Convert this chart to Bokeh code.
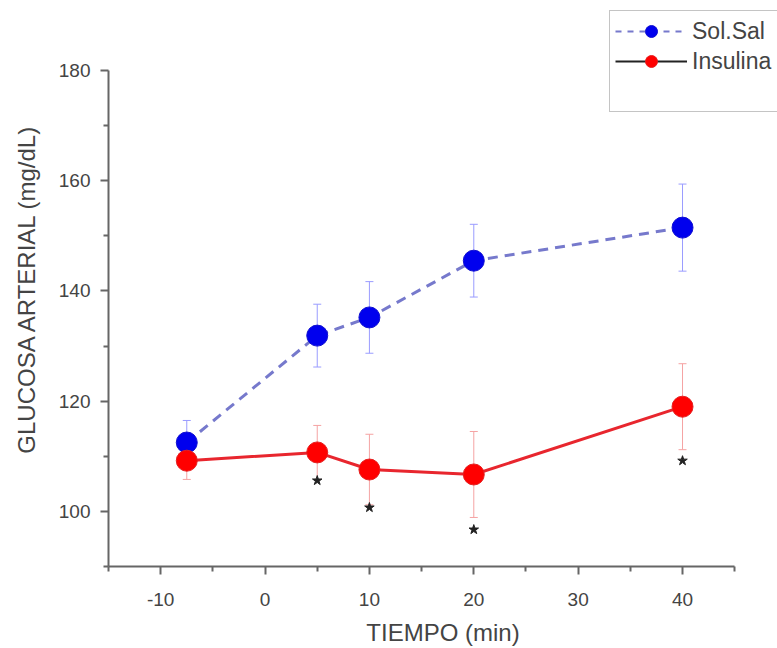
from bokeh.plotting import figure
from bokeh.models import (ColumnDataSource, Whisker, TeeHead, Legend, LegendItem,
                          Range1d, FixedTicker)
from bokeh.embed import file_html
from bokeh.resources import INLINE

# ---- data ----
tiempo = [-7.5, 5, 10, 20, 40]
sol_sal = [112.5, 131.9, 135.2, 145.5, 151.5]
sol_sal_err = [4.0, 5.7, 6.5, 6.6, 7.9]
insulina = [109.2, 110.7, 107.6, 106.7, 119.0]
insulina_err = [3.4, 4.9, 6.4, 7.8, 7.8]
sig_x = [5, 10, 20, 40]
sig_y = [105.6, 100.7, 96.7, 109.2]
x_ticks = [-10, 0, 10, 20, 30, 40]
y_ticks = [100, 120, 140, 160, 180]

FONT = "Liberation Sans"

# axes span x -15..45 and y 90..180; the plotting frame is larger so that the
# legend can sit above/right of the axes like in the original figure
p = figure(width=777, height=648, output_backend="svg", toolbar_location=None,
           x_range=Range1d(-15, 49.1), y_range=Range1d(90, 190.9),
           min_border_left=108, min_border_right=0, min_border_top=10,
           min_border_bottom=82)
p.outline_line_color = None
p.xgrid.visible = False
p.ygrid.visible = False

def up(v, e):
    return [a + b for a, b in zip(v, e)]

def dn(v, e):
    return [a - b for a, b in zip(v, e)]

blue_src = ColumnDataSource(dict(x=tiempo, y=sol_sal, up=up(sol_sal, sol_sal_err),
                                 dn=dn(sol_sal, sol_sal_err)))
red_src = ColumnDataSource(dict(x=tiempo, y=insulina, up=up(insulina, insulina_err),
                                dn=dn(insulina, insulina_err)))

for src, col in ((blue_src, "#9a9cff"), (red_src, "#f5a3a3")):
    w = Whisker(source=src, base="x", upper="up", lower="dn", line_color=col,
                line_width=1,
                upper_head=TeeHead(size=8, line_color=col, line_width=1),
                lower_head=TeeHead(size=8, line_color=col, line_width=1))
    p.add_layout(w)

p.line("x", "y", source=blue_src, line_color="#7679cc", line_width=3,
       line_dash="10 7")
p.scatter("x", "y", source=blue_src, size=21, fill_color="#0000ee",
          line_color="#1010d0")
p.line("x", "y", source=red_src, line_color="#e8262e", line_width=3)
p.scatter("x", "y", source=red_src, size=21, fill_color="#ff0000",
          line_color="#e52020")

p.scatter(sig_x, sig_y, marker="star", size=10, fill_color="#222222",
          line_color="#222222")

# legend proxies
nan = [float("nan")]
lg_blue_line = p.line(nan, nan, line_color="#7679cc", line_width=2, line_dash="6 6")
lg_blue_dot = p.scatter(nan, nan, size=15, fill_color="#0000ee", line_color="#1010d0")
lg_red_line = p.line(nan, nan, line_color="#222222", line_width=2)
lg_red_dot = p.scatter(nan, nan, size=15, fill_color="#ff0000", line_color="#e52020")
lg_blank = p.line(nan, nan, line_alpha=0)

legend = Legend(items=[
    LegendItem(label="Sol.Sal", renderers=[lg_blue_line, lg_blue_dot]),
    LegendItem(label="Insulina", renderers=[lg_red_line, lg_red_dot]),
    LegendItem(label=" ", renderers=[lg_blank]),
], location=(501, 454))
legend.label_text_font = FONT
legend.label_text_font_size = "23px"
legend.label_text_color = "#444444"
legend.glyph_width = 72
legend.glyph_height = 30
legend.label_height = 30
legend.label_width = 110
legend.label_standoff = 5
legend.spacing = 0
legend.padding = 5
legend.margin = 0
legend.border_line_color = "#8a8a8a"
legend.border_line_width = 1.5
legend.background_fill_color = "white"
legend.background_fill_alpha = 1
p.add_layout(legend, "center")

for ax in (p.xaxis[0], p.yaxis[0]):
    ax.axis_line_color = "#666666"
    ax.axis_line_width = 2
    ax.major_tick_line_color = "#666666"
    ax.major_tick_line_width = 2
    ax.minor_tick_line_color = "#666666"
    ax.minor_tick_line_width = 2
    ax.major_tick_out = 8
    ax.major_tick_in = 0
    ax.minor_tick_out = 5
    ax.minor_tick_in = 0
    ax.major_label_text_font = FONT
    ax.major_label_text_font_size = "19px"
    ax.major_label_text_color = "#444444"
    ax.axis_label_text_font = FONT
    ax.axis_label_text_font_size = "24px"
    ax.axis_label_text_font_style = "normal"
    ax.axis_label_text_color = "#444444"

p.xaxis.bounds = (-15, 45)
p.yaxis.bounds = (90, 180)
p.xaxis.ticker = FixedTicker(ticks=x_ticks, minor_ticks=[-15, -5, 5, 15, 25, 35, 45])
p.yaxis.ticker = FixedTicker(ticks=y_ticks, minor_ticks=[90, 110, 130, 150, 170])
p.xaxis.major_label_overrides = {t: str(t) for t in x_ticks}
p.xaxis.axis_label = "TIEMPO (min)"
p.yaxis.axis_label = "GLUCOSA ARTERIAL (mg/dL)"
p.xaxis.major_label_standoff = 18
p.yaxis.major_label_standoff = 10
p.xaxis.axis_label_standoff = 10
p.yaxis.axis_label_standoff = 16

open("out.html", "w").write(file_html(p, INLINE))
